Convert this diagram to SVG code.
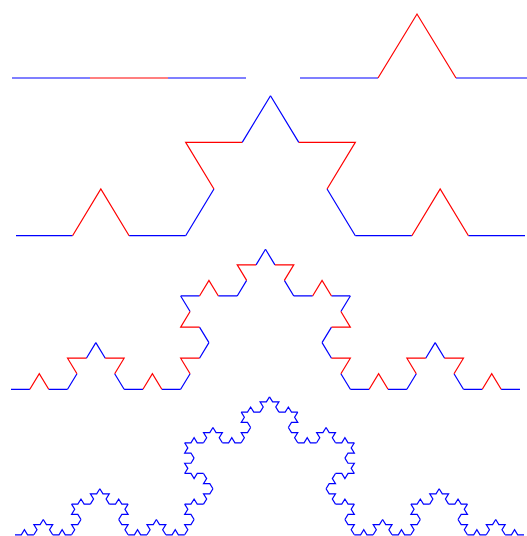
<svg xmlns="http://www.w3.org/2000/svg" xmlns:xlink="http://www.w3.org/1999/xlink" width="527" height="536" viewBox="0 0 527 536">
  <style>
    .b { fill: none; stroke: #0000ff; stroke-width: 1.2; vector-effect: non-scaling-stroke; stroke-linejoin: miter; }
    .r { fill: none; stroke: #ff0000; stroke-width: 1.2; vector-effect: non-scaling-stroke; stroke-linejoin: miter; }
  </style>
  <defs>
    <g id="c1">
      <path class="b" d="M0,0H0.333333M0.666667,0H1"/>
      <path class="r" d="M0.333333,0L0.5,-0.288675L0.666667,0"/>
    </g>
    <g id="c2">
      <use href="#c1" transform="scale(0.333333)"/>
      <use href="#c1" transform="translate(0.333333,0) rotate(-60) scale(0.333333)"/>
      <use href="#c1" transform="translate(0.5,-0.288675) rotate(60) scale(0.333333)"/>
      <use href="#c1" transform="translate(0.666667,0) scale(0.333333)"/>
    </g>
    <g id="c3">
      <use href="#c2" transform="scale(0.333333)"/>
      <use href="#c2" transform="translate(0.333333,0) rotate(-60) scale(0.333333)"/>
      <use href="#c2" transform="translate(0.5,-0.288675) rotate(60) scale(0.333333)"/>
      <use href="#c2" transform="translate(0.666667,0) scale(0.333333)"/>
    </g>
    <path id="b1" class="b" d="M0,0H0.333333L0.5,-0.288675L0.666667,0H1"/>
    <g id="b2">
      <use href="#b1" transform="scale(0.333333)"/>
      <use href="#b1" transform="translate(0.333333,0) rotate(-60) scale(0.333333)"/>
      <use href="#b1" transform="translate(0.5,-0.288675) rotate(60) scale(0.333333)"/>
      <use href="#b1" transform="translate(0.666667,0) scale(0.333333)"/>
    </g>
    <g id="b3">
      <use href="#b2" transform="scale(0.333333)"/>
      <use href="#b2" transform="translate(0.333333,0) rotate(-60) scale(0.333333)"/>
      <use href="#b2" transform="translate(0.5,-0.288675) rotate(60) scale(0.333333)"/>
      <use href="#b2" transform="translate(0.666667,0) scale(0.333333)"/>
    </g>
    <g id="b4">
      <use href="#b3" transform="scale(0.333333)"/>
      <use href="#b3" transform="translate(0.333333,0) rotate(-60) scale(0.333333)"/>
      <use href="#b3" transform="translate(0.5,-0.288675) rotate(60) scale(0.333333)"/>
      <use href="#b3" transform="translate(0.666667,0) scale(0.333333)"/>
    </g>
  </defs>

  <g id="level0">
    <path class="b" d="M12,78H90M168,78H246"/>
    <path class="r" d="M90,78H168"/>
  </g>

  <g id="level1" transform="translate(300,78) scale(234,221.6)">
    <use href="#c1"/>
  </g>

  <g id="level2" transform="translate(16,235.7) scale(509,485)">
    <use href="#c2"/>
  </g>

  <g id="level3" transform="translate(11,389.3) scale(509,485)">
    <use href="#c3"/>
  </g>

  <g id="level4" transform="translate(15,534.8) scale(509,478)">
    <use href="#b4"/>
  </g>
</svg>
